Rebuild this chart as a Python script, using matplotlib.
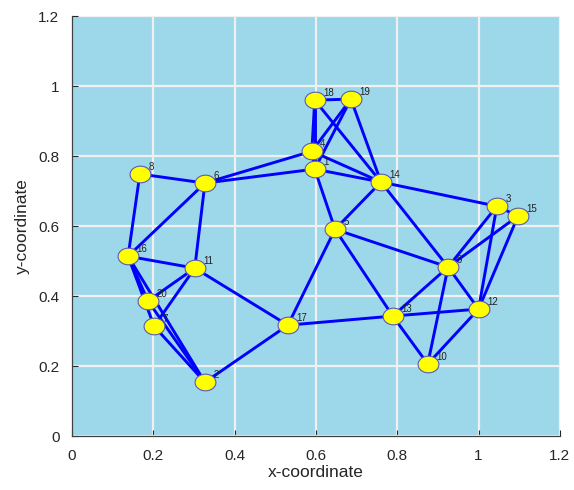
import numpy as np
import matplotlib.pyplot as plt
from matplotlib.path import Path

plt.rcParams["font.family"] = ["Liberation Sans", "DejaVu Sans"]

# node coordinates (node id -> x, y)
node_ids = list(range(1, 21))
node_x = [0.597, 0.327, 1.045, 0.590, 0.647, 0.327, 0.202, 0.167, 0.925, 0.875,
          0.302, 1.000, 0.789, 0.760, 1.097, 0.138, 0.531, 0.597, 0.686, 0.187]
node_y = [0.763, 0.154, 0.657, 0.814, 0.591, 0.723, 0.314, 0.749, 0.483, 0.206,
          0.480, 0.363, 0.343, 0.726, 0.629, 0.514, 0.317, 0.960, 0.963, 0.386]

# links between nodes
edges = [
    (18, 19), (18, 4), (18, 1), (18, 14), (19, 4), (19, 1), (19, 14),
    (4, 1), (4, 14), (4, 6), (1, 6), (1, 14), (1, 5), (14, 5), (14, 3),
    (14, 9), (6, 8), (6, 16), (6, 11), (8, 16), (16, 11), (16, 20),
    (16, 7), (16, 2), (20, 11), (7, 11), (20, 2), (7, 2), (11, 17),
    (17, 2), (17, 5), (17, 13), (5, 9), (5, 13), (13, 9), (13, 12),
    (13, 10), (9, 10), (9, 12), (9, 3), (9, 15), (3, 15), (3, 12),
    (15, 12), (12, 10),
]

pos = {n: (x, y) for n, x, y in zip(node_ids, node_x, node_y)}

# slightly flattened ellipse marker
t = np.linspace(0, 2 * np.pi, 60)
ellipse = Path(np.column_stack([np.cos(t), 0.8 * np.sin(t)]), closed=True)

fig = plt.figure(figsize=(5.74, 4.90), dpi=100)
ax = fig.add_axes([0.1254, 0.110, 0.850, 0.857])
ax.set_facecolor("#9dd8ea")

for a, b in edges:
    xa, ya = pos[a]
    xb, yb = pos[b]
    ax.plot([xa, xb], [ya, yb], color="#0000ff", lw=2.1, zorder=2,
            solid_capstyle="round")

ax.plot(node_x, node_y, linestyle="none", marker=ellipse, markersize=15,
        markerfacecolor="#ffff00", markeredgecolor="#5a5ab4",
        markeredgewidth=0.8, zorder=3)

for n, x, y in zip(node_ids, node_x, node_y):
    ax.annotate(str(n), (x, y), xytext=(6, 3), textcoords="offset points",
                fontsize=7, color="#222222", zorder=4)

ax.set_xlim(0, 1.2)
ax.set_ylim(0, 1.2)
ticks = [0, 0.2, 0.4, 0.6, 0.8, 1, 1.2]
ticklabels = ["0", "0.2", "0.4", "0.6", "0.8", "1", "1.2"]
ax.set_xticks(ticks)
ax.set_xticklabels(ticklabels)
ax.set_yticks(ticks)
ax.set_yticklabels(ticklabels)
ax.tick_params(direction="in", length=4, labelsize=11, colors="#262626",
               width=0.8)
ax.tick_params(axis="x", pad=9)
ax.tick_params(axis="y", pad=9)
ax.grid(True, color="#f0f0f0", linewidth=1.6)
ax.set_axisbelow(True)
for side in ["top", "right"]:
    ax.spines[side].set_visible(False)
for side in ["left", "bottom"]:
    ax.spines[side].set_color("#404040")
    ax.spines[side].set_linewidth(0.9)

ax.set_xlabel("x-coordinate", fontsize=12.5, color="#262626", labelpad=2)
ax.set_ylabel("y-coordinate", fontsize=12.5, color="#262626", labelpad=6)

fig.savefig("out.png", dpi=100)
